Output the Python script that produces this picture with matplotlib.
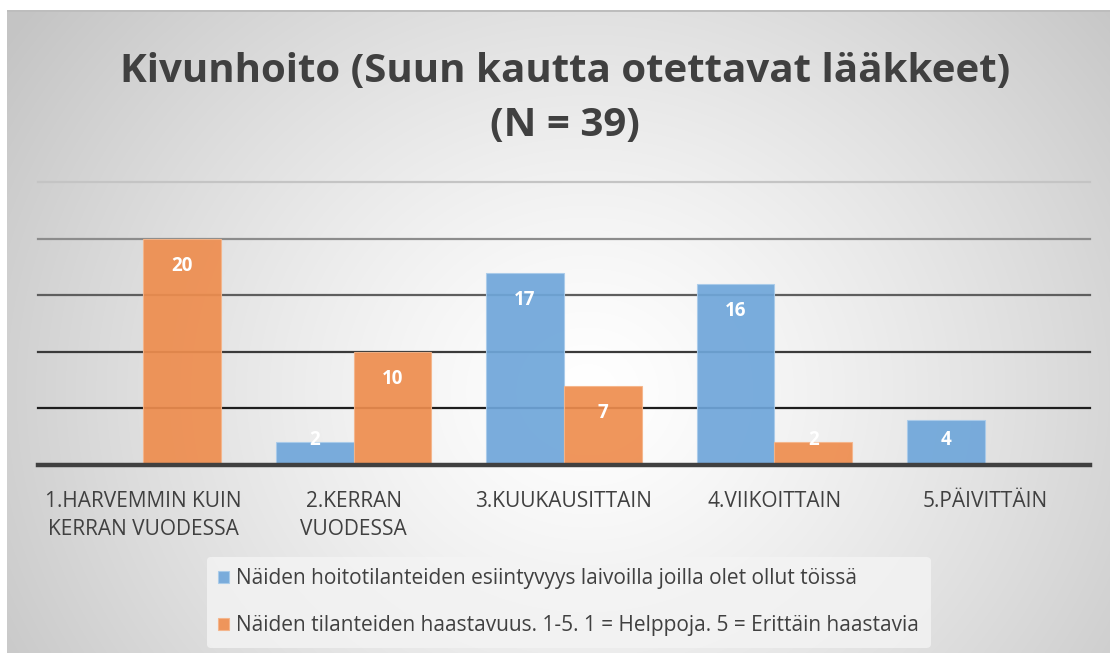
import numpy as np
import matplotlib.pyplot as plt
from matplotlib.patches import Rectangle

categories = ["1.HARVEMMIN KUIN\nKERRAN VUODESSA", "2.KERRAN\nVUODESSA",
              "3.KUUKAUSITTAIN", "4.VIIKOITTAIN", "5.PÄIVITTÄIN"]
esiintyvyys = [0, 2, 17, 16, 4]
haastavuus = [20, 10, 7, 2, 0]
series_names = ["Näiden hoitotilanteiden esiintyvyys laivoilla joilla olet ollut töissä",
                "Näiden tilanteiden haastavuus. 1-5. 1 = Helppoja. 5 = Erittäin haastavia"]
title = "Kivunhoito (Suun kautta otettavat lääkkeet)\n(N = 39)"

blue = "#6fa6da"
orange = "#ee8d4e"
txt = "#404040"

plt.rcParams['font.family'] = ['Open Sans', 'DejaVu Sans']

W, H = 1110, 653
fig = plt.figure(figsize=(W / 100, H / 100), dpi=100)
fig.patch.set_facecolor("white")

# radial gradient background
bg = fig.add_axes([7 / W, 0, 1 - 7 / W, 1 - 11 / H])
yy, xx = np.mgrid[0:642, 0:1103]
cx, cy = 580, 380
r = np.sqrt(((xx - cx) / 1.0) ** 2 + ((yy - cy) / 0.9) ** 2)
r = np.clip(r / 700, 0, 1)
shade = 1.0 - 0.23 * r ** 1.3
img = np.dstack([shade, shade, shade])
bg.imshow(img, aspect="auto", extent=[0, 1, 0, 1], origin="upper")
bg.set_axis_off()
fig.add_artist(Rectangle((7 / W, 1 - 12 / H), 1, 2 / H, transform=fig.transFigure,
                         color="#bdbdbd", lw=0))

ax = fig.add_axes([38 / W, 188 / H, 1052 / W, 283 / H])
ax.patch.set_alpha(0)
x = np.arange(len(categories))
w = 0.37

grid_cols = {5: "#1e1e1e", 10: "#3a3a3a", 15: "#5e5e5e", 20: "#8c8c8c", 25: "#c4c4c4"}
for yv, c in grid_cols.items():
    ax.axhline(yv, color=c, lw=1.6, zorder=1, clip_on=False)

b1 = ax.bar(x - w / 2, esiintyvyys, w, color=blue, alpha=0.92, edgecolor="#a9cbea",
            lw=0.8, zorder=2, label=series_names[0])
b2 = ax.bar(x + w / 2, haastavuus, w, color=orange, alpha=0.92, edgecolor="#f5b58a",
            lw=0.8, zorder=2, label=series_names[1])
ax.axhline(0, color="#404040", lw=3.2, zorder=3, clip_on=False)

for xs, vals in [(x - w / 2, esiintyvyys), (x + w / 2, haastavuus)]:
    for xi, v in zip(xs, vals):
        if v == 0:
            continue
        ax.text(xi, max(v - 2.4, 2.2), str(v), ha="center", va="center",
                color="white", fontsize=13.5, fontweight="bold", zorder=4)

ax.set_xlim(-0.5, len(categories) - 0.5)
ax.set_ylim(0, 25)
ax.set_xticks(x)
ax.set_xticklabels(categories, fontsize=15, color=txt, linespacing=1.4, va="top")
ax.tick_params(axis="x", length=0, pad=19)
ax.set_yticks([])
for s in ax.spines.values():
    s.set_visible(False)

fig.text(565 / W, 1 - 98 / H, title, ha="center", va="center", fontsize=29,
         fontweight="bold", color=txt, linespacing=1.5)

leg = fig.legend(handles=[b1, b2], loc="upper left", bbox_to_anchor=(207 / W, 1 - 557 / H),
                 frameon=True, fontsize=15, handlelength=0.5, handleheight=0.5,
                 handletextpad=0.35, labelspacing=1.25, borderpad=0.55,
                 borderaxespad=0)
leg.get_frame().set_facecolor("#f4f4f4")
leg.get_frame().set_edgecolor("none")
leg.get_frame().set_alpha(0.8)
for t in leg.get_texts():
    t.set_color(txt)

fig.savefig("out.png", dpi=100)
